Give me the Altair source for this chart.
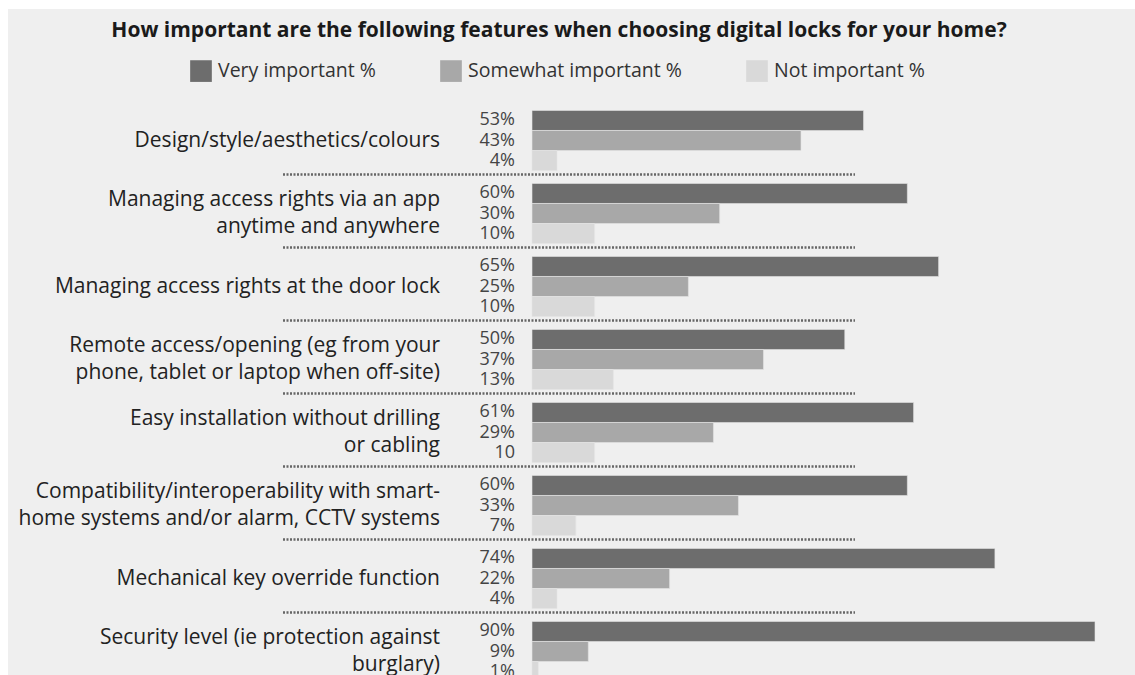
import altair as alt
import pandas as pd

categories = [
    "Design/style/aesthetics/colours",
    "Managing access rights via an app\nanytime and anywhere",
    "Managing access rights at the door lock",
    "Remote access/opening (eg from your\nphone, tablet or laptop when off-site)",
    "Easy installation without drilling\nor cabling",
    "Compatibility/interoperability with smart-\nhome systems and/or alarm, CCTV systems",
    "Mechanical key override function",
    "Security level (ie protection against\nburglary)",
]
series = ["Very important %", "Somewhat important %", "Not important %"]
very = [53, 60, 65, 50, 61, 60, 74, 90]
somewhat = [43, 30, 25, 37, 29, 33, 22, 9]
not_imp = [4, 10, 10, 13, 10, 7, 4, 1]
very_lbl = ["53%", "60%", "65%", "50%", "61%", "60%", "74%", "90%"]
somewhat_lbl = ["43%", "30%", "25%", "37%", "29%", "33%", "22%", "9%"]
not_lbl = ["4%", "10%", "10%", "13%", "10", "7%", "4%", "1%"]
colors = ["#6d6d6d", "#a8a8a8", "#d9d9d9"]
title_text = "How important are the following features when choosing digital locks for your home?"

rows = []
for i, c in enumerate(categories):
    for s, vals, lbls in zip(series, [very, somewhat, not_imp], [very_lbl, somewhat_lbl, not_lbl]):
        rows.append({"category": c, "series": s, "value": vals[i], "label": lbls[i]})
df = pd.DataFrame(rows)
single_df = pd.DataFrame({"category": [c for c in categories if "\n" not in c]})
multi_df = pd.DataFrame({"category": [c for c in categories if "\n" in c]})
sep_df = pd.DataFrame({"category": categories[1:]})
one = pd.DataFrame({"t": [title_text]})

FONT = "Open Sans"
W, H = 603, 571

yscale = alt.Scale(domain=categories, range=[0, 584], paddingInner=0.178, paddingOuter=0.089)
y_enc = alt.Y("category:N", scale=yscale, axis=None, sort=categories)
off_enc = alt.YOffset("series:N", sort=series,
                      scale=alt.Scale(domain=series, paddingInner=0, paddingOuter=0))

panel = alt.Chart(one).mark_rect(color="#efefef").encode(
    x=alt.value(-524), x2=alt.value(W), y=alt.value(-95), y2=alt.value(H)
)

bars = alt.Chart(df).mark_bar(stroke="#e4e4e4", strokeWidth=0.6).encode(
    x=alt.X("value:Q", scale=alt.Scale(domain=[0, 90], range=[0, 563]), axis=None),
    y=y_enc,
    yOffset=off_enc,
    color=alt.Color("series:N", sort=series,
                    scale=alt.Scale(domain=series, range=colors),
                    legend=alt.Legend(title=None, orient="none", legendX=-342, legendY=-44,
                                      direction="horizontal", symbolType="square",
                                      symbolSize=470, symbolStrokeWidth=0,
                                      labelFontSize=19.5, labelFont=FONT, labelColor="#333",
                                      labelLimit=0, labelOffset=6, columnPadding=64)),
)

pct = alt.Chart(df).mark_text(align="right", baseline="middle", dx=-17, fontSize=18,
                              font=FONT, color="#444").encode(
    x=alt.value(0),
    y=y_enc,
    yOffset=off_enc,
    text="label:N",
)

cat_style = dict(align="right", baseline="middle", fontSize=21, font=FONT,
                 color="#222", lineBreak="\n", lineHeight=27)
cats1 = alt.Chart(single_df).mark_text(**cat_style).encode(
    x=alt.value(-92), y=y_enc, text="category:N")
cats2 = alt.Chart(multi_df).mark_text(dy=-14, **cat_style).encode(
    x=alt.value(-92), y=y_enc, text="category:N")

seps = alt.Chart(sep_df).mark_rule(color="#666", strokeWidth=2.5, strokeDash=[2, 1.5],
                                   yOffset=-9).encode(
    x=alt.value(-249), x2=alt.value(323),
    y=alt.Y("category:N", scale=yscale, axis=None, sort=categories, bandPosition=0),
)

title = alt.Chart(one).mark_text(align="center", baseline="middle", fontSize=21,
                                 fontWeight="bold", font=FONT, color="#1a1a1a").encode(
    x=alt.value(27), y=alt.value(-73), text="t:N"
)

chart = alt.layer(panel, seps, bars, pct, cats1, cats2, title).properties(
    width=W, height=H,
    autosize=alt.AutoSizeParams(type="none"),
    padding={"left": 532, "top": 104, "right": 0, "bottom": 0},
    background="white",
).configure_view(stroke=None)

chart.save("out.html", embed_options={"renderer": "svg", "actions": False})
